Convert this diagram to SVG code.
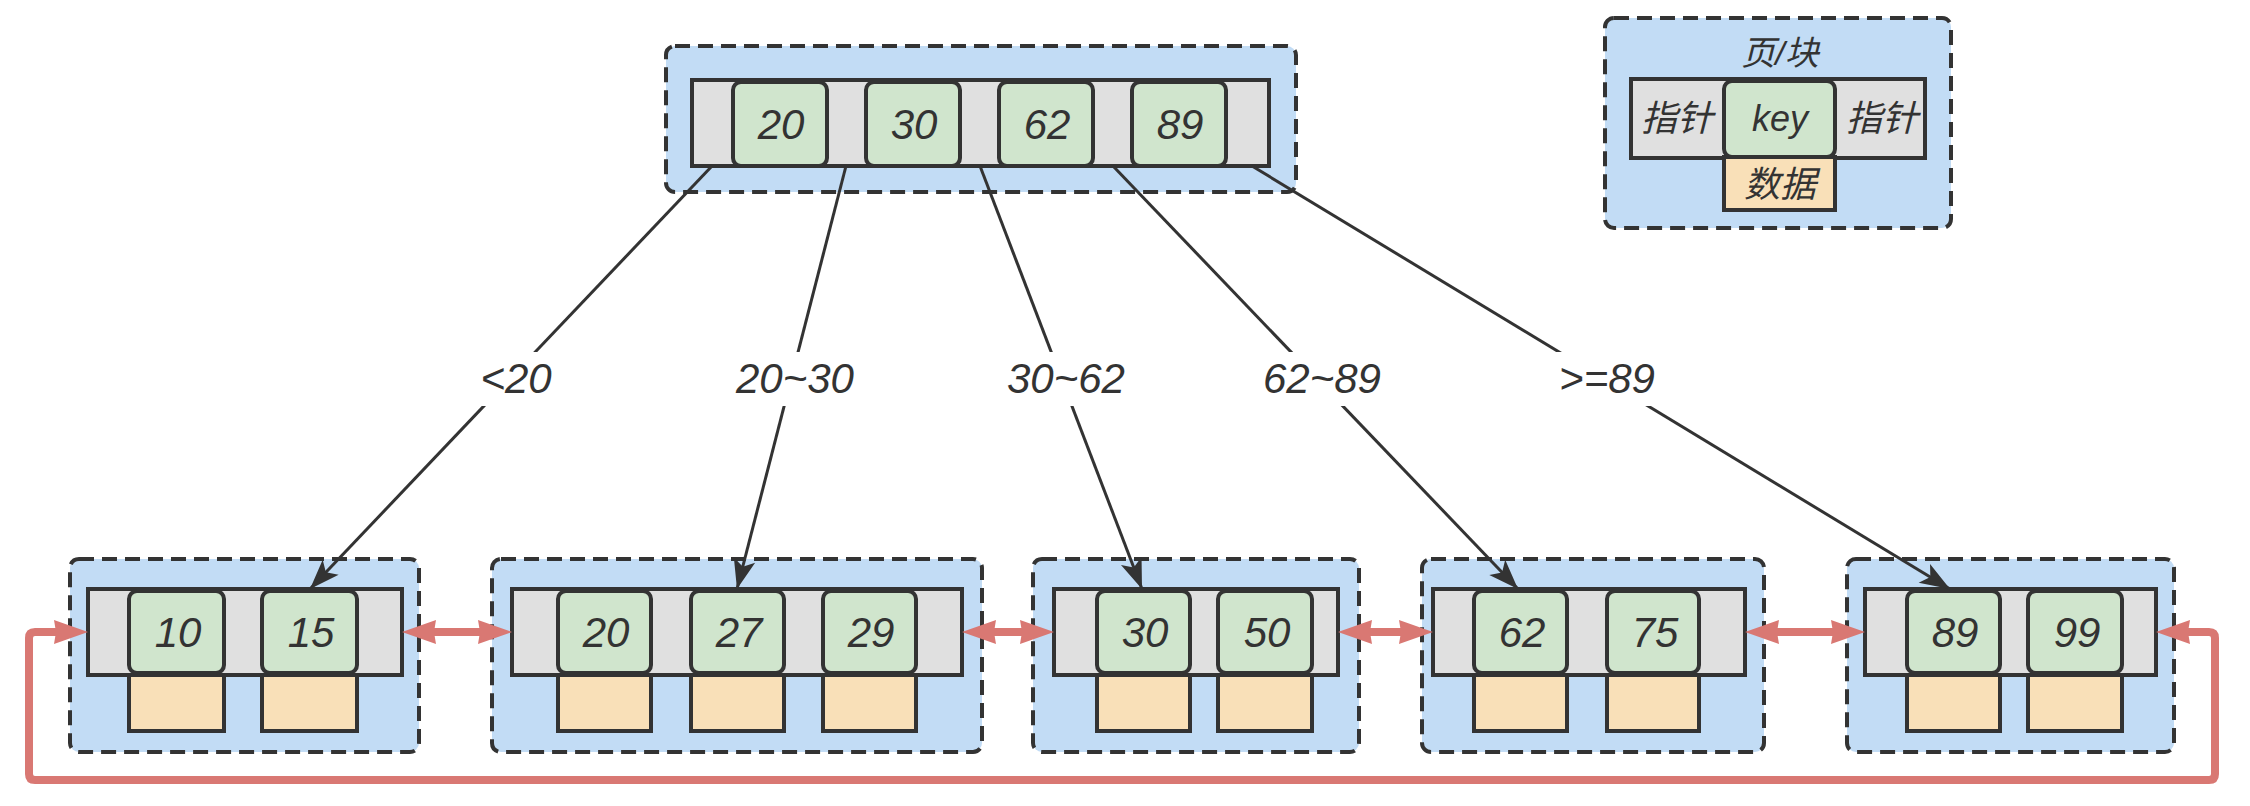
<svg xmlns="http://www.w3.org/2000/svg" width="2250" height="806" viewBox="0 0 2250 806">
<defs>
<style>
.cont{fill:#c2dcf5;stroke:#333;stroke-width:4;stroke-dasharray:15 8}
.bar{fill:#e0e0e0;stroke:#333;stroke-width:4}
.key{fill:#d0e5cd;stroke:#333;stroke-width:4}
.dat{fill:#f9e0b8;stroke:#333;stroke-width:4}
.t{font-family:"Liberation Sans",Arial,"Noto Sans CJK SC",sans-serif;font-style:italic;fill:#333;text-anchor:middle;dominant-baseline:central}
.k{font-size:42px}
.lg{font-size:36px}
.lt{font-size:34px}
.edge{fill:none;stroke:#333;stroke-width:3;marker-end:url(#ab)}
.red{fill:none;stroke:#d97873;stroke-width:8;stroke-linejoin:round;marker-start:url(#ar);marker-end:url(#ar)}
.lbl{fill:#fff}
</style>
<marker id="ab" markerUnits="userSpaceOnUse" markerWidth="32" markerHeight="24" refX="30" refY="11" orient="auto" overflow="visible">
<path d="M0,0 L30,11 L0,22 L7,11 Z" fill="#333"/>
</marker>
<marker id="ar" markerUnits="userSpaceOnUse" markerWidth="36" markerHeight="26" refX="18" refY="12" orient="auto-start-reverse" overflow="visible">
<path d="M0,0 L34,12 L0,24 L2,12 Z" fill="#d97873"/>
</marker>
</defs>
<rect width="2250" height="806" fill="#fff"/>

<g id="legend">
<rect class="cont" x="1605" y="18" width="346" height="210" rx="9"/>
<text class="t lt" x="1780" y="53">页/块</text>
<rect class="bar" x="1631" y="79" width="294" height="79"/>
<rect class="dat" x="1724" y="157" width="111" height="53"/>
<rect class="key" x="1724" y="81" width="111" height="76" rx="8"/>
<text class="t lg" x="1677" y="118">指针</text>
<text class="t lg" x="1780" y="118">key</text>
<text class="t lg" x="1882" y="118">指针</text>
<text class="t lg" x="1780" y="184">数据</text>
</g>

<g id="root">
<rect class="cont" x="666" y="46" width="630" height="146" rx="9"/>
<rect class="bar" x="692" y="80" width="577" height="86"/>
<rect class="key" x="733" y="82" width="94" height="84" rx="8"/>
<rect class="key" x="866" y="82" width="94" height="84" rx="8"/>
<rect class="key" x="999" y="82" width="94" height="84" rx="8"/>
<rect class="key" x="1132" y="82" width="94" height="84" rx="8"/>
<text class="t k" x="781" y="124">20</text>
<text class="t k" x="914" y="124">30</text>
<text class="t k" x="1047" y="124">62</text>
<text class="t k" x="1180" y="124">89</text>
</g>

<g id="leaf1">
<rect class="cont" x="70" y="559" width="349" height="193" rx="9"/>
<rect class="bar" x="88" y="589" width="314" height="86"/>
<rect class="dat" x="129" y="675" width="95" height="56"/>
<rect class="dat" x="262" y="675" width="95" height="56"/>
<rect class="key" x="129" y="591" width="95" height="82" rx="8"/>
<rect class="key" x="262" y="591" width="95" height="82" rx="8"/>
<text class="t k" x="178" y="632">10</text>
<text class="t k" x="311" y="632">15</text>
</g>

<g id="leaf2">
<rect class="cont" x="492" y="559" width="490" height="193" rx="9"/>
<rect class="bar" x="512" y="589" width="450" height="86"/>
<rect class="dat" x="558" y="675" width="93" height="56"/>
<rect class="dat" x="691" y="675" width="93" height="56"/>
<rect class="dat" x="823" y="675" width="93" height="56"/>
<rect class="key" x="558" y="591" width="93" height="82" rx="8"/>
<rect class="key" x="691" y="591" width="93" height="82" rx="8"/>
<rect class="key" x="823" y="591" width="93" height="82" rx="8"/>
<text class="t k" x="606" y="632">20</text>
<text class="t k" x="739" y="632">27</text>
<text class="t k" x="871" y="632">29</text>
</g>

<g id="leaf3">
<rect class="cont" x="1033" y="559" width="326" height="193" rx="9"/>
<rect class="bar" x="1054" y="589" width="284" height="86"/>
<rect class="dat" x="1097" y="675" width="93" height="56"/>
<rect class="dat" x="1218" y="675" width="94" height="56"/>
<rect class="key" x="1097" y="591" width="93" height="82" rx="8"/>
<rect class="key" x="1218" y="591" width="94" height="82" rx="8"/>
<text class="t k" x="1145" y="632">30</text>
<text class="t k" x="1267" y="632">50</text>
</g>

<g id="leaf4">
<rect class="cont" x="1422" y="559" width="342" height="193" rx="9"/>
<rect class="bar" x="1433" y="589" width="312" height="86"/>
<rect class="dat" x="1474" y="675" width="93" height="56"/>
<rect class="dat" x="1607" y="675" width="92" height="56"/>
<rect class="key" x="1474" y="591" width="93" height="82" rx="8"/>
<rect class="key" x="1607" y="591" width="92" height="82" rx="8"/>
<text class="t k" x="1522" y="632">62</text>
<text class="t k" x="1655" y="632">75</text>
</g>

<g id="leaf5">
<rect class="cont" x="1847" y="559" width="327" height="193" rx="9"/>
<rect class="bar" x="1865" y="589" width="291" height="86"/>
<rect class="dat" x="1907" y="675" width="93" height="56"/>
<rect class="dat" x="2028" y="675" width="94" height="56"/>
<rect class="key" x="1907" y="591" width="93" height="82" rx="8"/>
<rect class="key" x="2028" y="591" width="94" height="82" rx="8"/>
<text class="t k" x="1955" y="632">89</text>
<text class="t k" x="2077" y="632">99</text>
</g>

<g id="connectors">
<line class="edge" x1="712" y1="166" x2="310" y2="589"/>
<line class="edge" x1="846" y1="166" x2="737" y2="589"/>
<line class="edge" x1="980" y1="166" x2="1142" y2="589"/>
<line class="edge" x1="1113" y1="166" x2="1518" y2="589"/>
<line class="edge" x1="1252" y1="166" x2="1950" y2="589"/>
<rect class="lbl" x="476" y="352" width="80" height="54"/>
<text class="t k" x="516" y="378">&lt;20</text>
<rect class="lbl" x="732" y="352" width="126" height="54"/>
<text class="t k" x="795" y="378">20~30</text>
<rect class="lbl" x="1003" y="352" width="126" height="54"/>
<text class="t k" x="1066" y="378">30~62</text>
<rect class="lbl" x="1259" y="352" width="126" height="54"/>
<text class="t k" x="1322" y="378">62~89</text>
<rect class="lbl" x="1555" y="352" width="104" height="54"/>
<text class="t k" x="1607" y="378">&gt;=89</text>
<path class="red" d="M418,632 L496,632"/>
<path class="red" d="M978,632 L1038,632"/>
<path class="red" d="M1354,632 L1417,632"/>
<path class="red" d="M1761,632 L1849,632"/>
<path class="red" d="M2172,632 L2209,632 Q2215,632 2215,638 L2215,774 Q2215,780 2209,780 L35,780 Q29,780 29,774 L29,638 Q29,632 35,632 L72,632"/>
</g>
</svg>
